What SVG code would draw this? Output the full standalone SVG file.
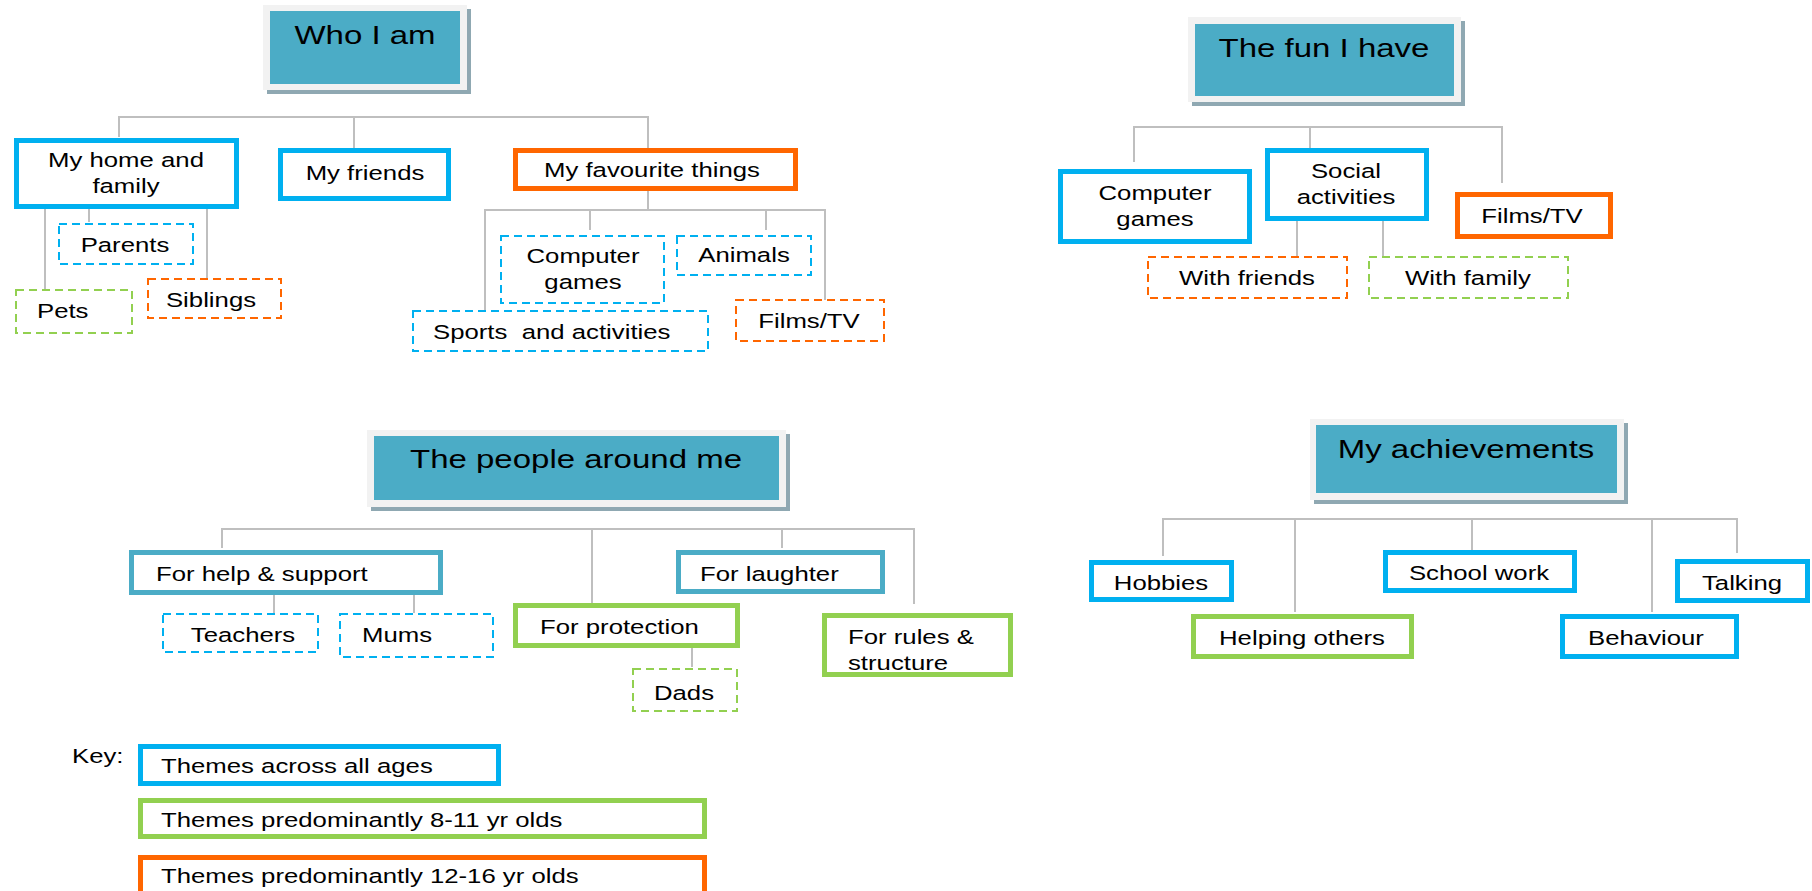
<svg xmlns="http://www.w3.org/2000/svg" width="1812" height="891" viewBox="0 0 1812 891">
<style>
text{font-family:"Liberation Sans",Arial,sans-serif;fill:#000}
.t{font-size:19.5px}
.ttl{font-size:25px}
.m{text-anchor:middle}
.s{text-anchor:start}
.bb{fill:#fff;stroke:#00B0F0;stroke-width:5}
.gb{fill:#fff;stroke:#92D050;stroke-width:5}
.ob{fill:#fff;stroke:#FF6600;stroke-width:5}
.tb{fill:#fff;stroke:#4BACC6;stroke-width:5}
.bd{fill:#fff;stroke:#00B0F0;stroke-width:2;stroke-dasharray:8 5}
.gd{fill:#fff;stroke:#92D050;stroke-width:2;stroke-dasharray:8 5}
.od{fill:#fff;stroke:#FF6600;stroke-width:2;stroke-dasharray:8 5}
.sh{fill:#8FA8B2}
.pn{fill:#F2F2F2}
.tl{fill:#4BACC6}
#connectors path{fill:none;stroke:#BFBFBF;stroke-width:2}
</style>
<rect width="1812" height="891" fill="#fff"/>
<g id="connectors">
<path d="M119 137V117H648V148M354 117V148"/>
<path d="M45 209V290M89 209V222M207 209V279"/>
<path d="M648 190V210M485 311V210H825V300M590 210V230M766 210V230"/>
<path d="M1134 162V127H1502V183M1310 127V149"/>
<path d="M1297 221V257M1383 221V257"/>
<path d="M222 548V529H914V604M592 529V604M782 529V548"/>
<path d="M274 595V613M414 595V613M692 647V667"/>
<path d="M1163 556V519H1737V553M1295 519V612M1472 519V550M1652 519V612"/>
</g>
<g id="who-i-am">
<rect class="sh" x="267" y="9" width="204" height="85"/>
<rect class="pn" x="263" y="5" width="204" height="85"/>
<rect class="tl" x="270" y="11" width="190" height="73"/>
<text class="ttl m" transform="translate(365 44) scale(1.32 1)">Who I am</text>
</g>
<g id="my-home-family">
<rect class="bb" x="16.5" y="140.5" width="220" height="66"/>
<text class="t m" transform="translate(126 167) scale(1.32 1)">My home and</text>
<text class="t m" transform="translate(126 193) scale(1.32 1)">family</text>
</g>
<g id="my-friends">
<rect class="bb" x="280.5" y="150.5" width="168" height="48"/>
<text class="t m" transform="translate(365 180) scale(1.32 1)">My friends</text>
</g>
<g id="my-favourite-things">
<rect class="ob" x="515.5" y="150.5" width="280" height="38"/>
<text class="t m" transform="translate(652 177) scale(1.32 1)">My favourite things</text>
</g>
<g id="parents">
<rect class="bd" x="59" y="224" width="134" height="40"/>
<text class="t m" transform="translate(125 252) scale(1.32 1)">Parents</text>
</g>
<g id="pets">
<rect class="gd" x="16" y="290" width="116" height="43"/>
<text class="t s" transform="translate(37 318) scale(1.32 1)">Pets</text>
</g>
<g id="siblings">
<rect class="od" x="148" y="279" width="133" height="39"/>
<text class="t m" transform="translate(211 307) scale(1.32 1)">Siblings</text>
</g>
<g id="fav-computer-games">
<rect class="bd" x="501" y="236" width="163" height="67"/>
<text class="t m" transform="translate(583 263) scale(1.32 1)">Computer</text>
<text class="t m" transform="translate(583 289) scale(1.32 1)">games</text>
</g>
<g id="animals">
<rect class="bd" x="677" y="236" width="134" height="39"/>
<text class="t m" transform="translate(744 262) scale(1.32 1)">Animals</text>
</g>
<g id="sports-activities">
<rect class="bd" x="413" y="311" width="295" height="40"/>
<text class="t s" xml:space="preserve" transform="translate(433 339) scale(1.32 1)">Sports  and activities</text>
</g>
<g id="fav-films-tv">
<rect class="od" x="736" y="300" width="148" height="41"/>
<text class="t m" transform="translate(809 328) scale(1.32 1)">Films/TV</text>
</g>
<g id="the-fun-i-have">
<rect class="sh" x="1192" y="21" width="273" height="85"/>
<rect class="pn" x="1188" y="17" width="273" height="85"/>
<rect class="tl" x="1195" y="24" width="259" height="72"/>
<text class="ttl m" transform="translate(1324 57) scale(1.32 1)">The fun I have</text>
</g>
<g id="fun-computer-games">
<rect class="bb" x="1060.5" y="171.5" width="189" height="70"/>
<text class="t m" transform="translate(1155 200) scale(1.32 1)">Computer</text>
<text class="t m" transform="translate(1155 226) scale(1.32 1)">games</text>
</g>
<g id="social-activities">
<rect class="bb" x="1267.5" y="150.5" width="159" height="68"/>
<text class="t m" transform="translate(1346 178) scale(1.32 1)">Social</text>
<text class="t m" transform="translate(1346 204) scale(1.32 1)">activities</text>
</g>
<g id="fun-films-tv">
<rect class="ob" x="1457.5" y="194.5" width="153" height="42"/>
<text class="t m" transform="translate(1532 223) scale(1.32 1)">Films/TV</text>
</g>
<g id="with-friends">
<rect class="od" x="1148" y="257" width="199" height="41"/>
<text class="t m" transform="translate(1247 285) scale(1.32 1)">With friends</text>
</g>
<g id="with-family">
<rect class="gd" x="1369" y="257" width="199" height="41"/>
<text class="t m" transform="translate(1468 285) scale(1.32 1)">With family</text>
</g>
<g id="people-around-me">
<rect class="sh" x="371" y="434" width="419" height="77"/>
<rect class="pn" x="367" y="430" width="419" height="77"/>
<rect class="tl" x="374" y="436" width="405" height="64"/>
<text class="ttl m" transform="translate(576 468) scale(1.32 1)">The people around me</text>
</g>
<g id="help-support">
<rect class="tb" x="131.5" y="552.5" width="309" height="40"/>
<text class="t s" transform="translate(156 581) scale(1.32 1)">For help &amp; support</text>
</g>
<g id="laughter">
<rect class="tb" x="678.5" y="552.5" width="204" height="39"/>
<text class="t s" transform="translate(700 581) scale(1.32 1)">For laughter</text>
</g>
<g id="teachers">
<rect class="bd" x="163" y="614" width="155" height="38"/>
<text class="t m" transform="translate(243 642) scale(1.32 1)">Teachers</text>
</g>
<g id="mums">
<rect class="bd" x="340" y="614" width="153" height="43"/>
<text class="t s" transform="translate(362 642) scale(1.32 1)">Mums</text>
</g>
<g id="protection">
<rect class="gb" x="515.5" y="605.5" width="222" height="40"/>
<text class="t s" transform="translate(540 634) scale(1.32 1)">For protection</text>
</g>
<g id="dads">
<rect class="gd" x="633" y="669" width="104" height="42"/>
<text class="t m" transform="translate(684 700) scale(1.32 1)">Dads</text>
</g>
<g id="rules-structure">
<rect class="gb" x="824.5" y="615.5" width="186" height="59"/>
<text class="t s" transform="translate(848 644) scale(1.32 1)">For rules &amp;</text>
<text class="t s" transform="translate(848 670) scale(1.32 1)">structure</text>
</g>
<g id="my-achievements">
<rect class="sh" x="1314" y="423" width="314" height="81"/>
<rect class="pn" x="1310" y="419" width="314" height="81"/>
<rect class="tl" x="1316" y="425" width="301" height="68"/>
<text class="ttl m" transform="translate(1466 458) scale(1.32 1)">My achievements</text>
</g>
<g id="hobbies">
<rect class="bb" x="1091.5" y="562.5" width="140" height="37"/>
<text class="t m" transform="translate(1161 590) scale(1.32 1)">Hobbies</text>
</g>
<g id="helping-others">
<rect class="gb" x="1193.5" y="616.5" width="218" height="40"/>
<text class="t m" transform="translate(1302 645) scale(1.32 1)">Helping others</text>
</g>
<g id="school-work">
<rect class="bb" x="1385.5" y="552.5" width="189" height="38"/>
<text class="t m" transform="translate(1479 580) scale(1.32 1)">School work</text>
</g>
<g id="talking">
<rect class="bb" x="1677.5" y="561.5" width="130" height="39"/>
<text class="t m" transform="translate(1742 590) scale(1.32 1)">Talking</text>
</g>
<g id="behaviour">
<rect class="bb" x="1562.5" y="616.5" width="174" height="40"/>
<text class="t m" transform="translate(1646 645) scale(1.32 1)">Behaviour</text>
</g>
<g id="key">
<text class="t s" transform="translate(72 763) scale(1.32 1)">Key:</text>
<rect class="bb" x="140.5" y="746.5" width="358" height="37"/>
<text class="t s" transform="translate(161 773) scale(1.32 1)">Themes across all ages</text>
<rect class="gb" x="140.5" y="800.5" width="564" height="36"/>
<text class="t s" transform="translate(161 827) scale(1.32 1)">Themes predominantly 8-11 yr olds</text>
<rect class="ob" x="140.5" y="857.5" width="564" height="40"/>
<text class="t s" transform="translate(161 883) scale(1.32 1)">Themes predominantly 12-16 yr olds</text>
</g>
</svg>
